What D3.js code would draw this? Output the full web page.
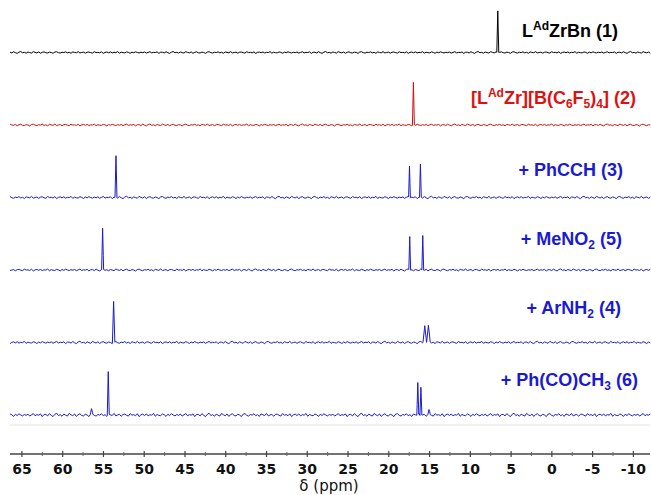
<!DOCTYPE html>
<html>
<head>
<meta charset="utf-8">
<script src="https://cdn.jsdelivr.net/npm/d3@7"></script>
<style>
  html, body { margin: 0; padding: 0; background: #fff; }
  svg { display: block; }
</style>
</head>
<body>
<svg id="chart" width="651" height="495"></svg>
<script>
// Stacked 31P NMR spectra, chemical shift δ in ppm (axis reversed, high → low)

// Compound labels (top → bottom)
const traceNames = ["1", "2", "3", "5", "4", "6"];

// Peak lists per trace: [shift (ppm), relative intensity, half-width (ppm)]
const peaks1 = [[6.57, 1.00, 0.12]];
const peaks2 = [[16.92, 1.01, 0.12]];
const peaks3 = [[53.40, 0.99, 0.12], [17.40, 0.75, 0.11], [16.06, 0.79, 0.11]];
const peaks4 = [[55.04, 0.98, 0.12], [17.37, 0.80, 0.11], [15.77, 0.82, 0.11]];
const peaks5 = [[53.69, 0.97, 0.15], [15.53, 0.41, 0.22], [15.08, 0.41, 0.22]];
const peaks6 = [[56.40, 0.14, 0.15], [54.35, 1.02, 0.12], [16.38, 0.78, 0.12], [16.00, 0.67, 0.12], [15.00, 0.12, 0.15]];

// Baseline noise samples (relative units) and per-trace noise level
const baselineNoise = [0.3,-0.5,0.8,-0.2,-0.9,0.4,1.0,-0.3,0.2,-0.7,0.5,-0.1,-0.6,0.9,0.1,-0.4,
  0.6,-0.8,0.2,0.7,-0.3,-0.5,0.4,0.0,-0.9,0.5,0.8,-0.2,-0.6,0.3,-0.1,0.7,-0.4,0.2,-0.8,0.6,
  0.1,-0.3,0.9,-0.5,0.0,0.4,-0.7,0.3,0.5,-0.2,-0.6,0.8,-0.1,0.2,-0.4,0.7,-0.9,0.1,0.5,-0.3,
  0.6,-0.5,0.2,-0.1,0.9,-0.7,0.3,-0.2,-0.4,0.6,0.1,-0.8,0.4,-0.3,0.7,0.0,-0.5,0.3,
  -0.2,0.5,-0.6,0.1,0.8,-0.4,0.2,-0.1,0.6,-0.9,0.3];
const noiseLevels = [0.022, 0.024, 0.03, 0.026, 0.03, 0.042];

// Axis ticks
const majorTicks = [65, 60, 55, 50, 45, 40, 35, 30, 25, 20, 15, 10, 5, 0, -5, -10];
const minorTicks = [62.5, 57.5, 52.5, 47.5, 42.5, 37.5, 32.5, 27.5, 22.5, 17.5, 12.5, 7.5, 2.5, -2.5, -7.5];

const peakLists = [peaks1, peaks2, peaks3, peaks4, peaks5, peaks6];
const traceColors = ["#000000", "#cc1010", "#1a1acc", "#1a1acc", "#1a1acc", "#1a1acc"];
const labelColors = ["#000000", "#e01010", "#1a1ad0", "#1a1ad0", "#1a1ad0", "#1a1ad0"];

const svg = d3.select("#chart");

const x = d3.scaleLinear().domain([66.4, -12.1]).range([10, 650]);
const baseY = d3.scaleLinear().domain([0, 5]).range([52.5, 415]);
const amp = d3.scaleLinear().domain([0, 1]).range([0, -42]);

const step = 0.22;
const ppmStart = x.domain()[0], ppmEnd = x.domain()[1];

function spectrum(peaks, level, offset) {
  const pts = [];
  const nSteps = Math.round((ppmStart - ppmEnd) / step);
  const noiseAt = i => baselineNoise[(i + offset) % baselineNoise.length] * level;
  const peakSum = p => d3.sum(peaks, ([c, h, w]) => Math.max(0, 1 - Math.abs(p - c) / w) * h);
  for (let i = 0; i <= nSteps; i++) {
    const p = ppmStart - i * step;
    pts.push([p, noiseAt(i) + peakSum(p)]);
  }
  // vertices of each peak (apex and foot)
  peaks.forEach(([c, h, w]) => {
    [c + w, c, c - w].forEach(p => {
      const i = Math.round((ppmStart - p) / step);
      pts.push([p, noiseAt(i) * 0.5 + peakSum(p)]);
    });
  });
  pts.sort((a, b) => b[0] - a[0]);
  return pts;
}

peakLists.forEach((peaks, k) => {
  const y0 = baseY(k);
  const line = d3.line()
    .x(d => x(d[0]))
    .y(d => y0 + amp(d[1]));
  svg.append("path")
    .datum(spectrum(peaks, noiseLevels[k], k * 13))
    .attr("d", line)
    .attr("fill", "none")
    .attr("stroke", traceColors[k])
    .attr("stroke-width", 1)
    .attr("stroke-linejoin", "round");
});

// Faint frame line below the stack
svg.append("line")
  .attr("x1", 10).attr("x2", 650)
  .attr("y1", 425).attr("y2", 425)
  .attr("stroke", "#e2e2e2").attr("stroke-width", 1);

// Trace labels
const labelLayout = [
  { xEnd: 618, y: 36.5 },
  { xEnd: 636, y: 103.5 },
  { xEnd: 623, y: 175.5 },
  { xEnd: 622, y: 244.5 },
  { xEnd: 621, y: 313.5 },
  { xEnd: 638, y: 385.5 }
];
const labelParts = [
  [["L", ""], ["Ad", "sup"], ["ZrBn (", ""], [traceNames[0], ""], [")", ""]],
  [["[L", ""], ["Ad", "sup"], ["Zr][B(C", ""], ["6", "sub"], ["F", ""], ["5", "sub"], [")", ""], ["4", "sub"], ["] (", ""], [traceNames[1], ""], [")", ""]],
  [["+ PhCCH (", ""], [traceNames[2], ""], [")", ""]],
  [["+ MeNO", ""], ["2", "sub"], [" (", ""], [traceNames[3], ""], [")", ""]],
  [["+ ArNH", ""], ["2", "sub"], [" (", ""], [traceNames[4], ""], [")", ""]],
  [["+ Ph(CO)CH", ""], ["3", "sub"], [" (", ""], [traceNames[5], ""], [")", ""]]
];
labelParts.forEach((parts, k) => {
  const t = svg.append("text")
    .attr("x", labelLayout[k].xEnd)
    .attr("y", labelLayout[k].y)
    .attr("text-anchor", "end")
    .attr("font-family", "Liberation Sans, Arial, sans-serif")
    .attr("font-weight", "bold")
    .attr("font-size", 18)
    .attr("fill", labelColors[k]);
  parts.forEach(([s, kind]) => {
    const ts = t.append("tspan").text(s);
    if (kind === "sup") ts.attr("font-size", 12).attr("baseline-shift", "7");
    if (kind === "sub") ts.attr("font-size", 12).attr("baseline-shift", "-4");
  });
});

// x axis
const axisY = 454;
const gAxis = svg.append("g")
  .attr("transform", `translate(0,${axisY})`)
  .call(d3.axisBottom(x).tickValues(majorTicks).tickSizeInner(3).tickSizeOuter(0).tickFormat(d3.format("d")));
gAxis.select(".domain").attr("stroke", "#444").attr("stroke-width", 1.3).attr("d", `M10,0H650`);
gAxis.selectAll(".tick line").attr("y1", -3).attr("stroke", "#444").attr("stroke-width", 1.2);
gAxis.selectAll(".tick text")
  .attr("y", 20).attr("dy", null)
  .attr("font-family", "DejaVu Sans, Verdana, sans-serif")
  .attr("font-weight", "bold")
  .attr("font-size", 14)
  .attr("fill", "#111")
  .text(d => d < 0 ? "-" + Math.abs(d) : d);

const gMinor = svg.append("g")
  .attr("transform", `translate(0,${axisY})`)
  .call(d3.axisBottom(x).tickValues(minorTicks).tickSizeInner(2).tickSizeOuter(0).tickFormat(""));
gMinor.select(".domain").remove();
gMinor.selectAll(".tick line").attr("y1", -2).attr("stroke", "#666").attr("stroke-width", 1);

svg.append("text")
  .attr("x", 329).attr("y", 491)
  .attr("text-anchor", "middle")
  .attr("font-family", "DejaVu Sans, Verdana, sans-serif")
  .attr("font-size", 15)
  .attr("fill", "#111")
  .text("δ (ppm)");
</script>
</body>
</html>
